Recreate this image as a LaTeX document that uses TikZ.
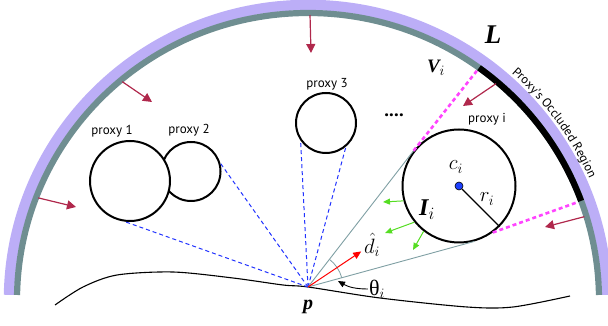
\documentclass[tikz,border=0pt]{standalone}
\usepackage{fontspec}
\setmainfont{Liberation Serif}
\setsansfont{PT Sans}
\usetikzlibrary{arrows.meta,positioning,calc,decorations.text}
\definecolor{Lav}{HTML}{BCAEF7}
\definecolor{Slate}{HTML}{6F8E91}
\definecolor{Crim}{HTML}{B0284C}
\definecolor{Lime}{HTML}{55DD22}
\definecolor{Ray}{HTML}{7F9FA3}
\definecolor{Pink}{HTML}{FF44FF}
\definecolor{Sight}{HTML}{2233FF}
\definecolor{Dot}{HTML}{1E40FF}

\begin{document}
\begin{tikzpicture}[x=1pt,y=1pt,
  proxy/.style={circle,draw=black,line width=2pt,inner sep=0pt},
  tag/.style={font=\sffamily\fontsize{13}{13}\selectfont,inner sep=0pt},
  push/.style={Crim,line width=1.2pt,-{Triangle[length=9pt,width=9pt]}},
  flow/.style={Lime,line width=1pt,-{Triangle[length=7pt,width=6pt]}},
  sight/.style={Sight,dash pattern=on 4pt off 3pt,line width=1pt},
  edge/.style={Ray,line width=0.9pt},
  occl/.style={Pink,dash pattern=on 4pt off 3pt,line width=2.6pt}]
\useasboundingbox (0,0) rectangle (608,326);
\coordinate (O) at (308,26);
\draw[Lav,line width=10.5pt] (O) ++(1:299pt and 295pt) arc[start angle=1,end angle=179,x radius=299pt,y radius=295pt];
\draw[Slate,line width=6.2pt] (O) ++(1:291pt and 287pt) arc[start angle=1,end angle=179,x radius=291pt,y radius=287pt];
\draw[black,line width=6.2pt] (O) ++(54:291pt and 287pt) arc[start angle=54,end angle=20.2,x radius=291pt,y radius=287pt];
\path[decorate,decoration={text along path,text align=center,text={|\sffamily\fontsize{12.5}{12.5}\selectfont|Proxy's Occluded Region}}] (O) ++(53:307pt and 303pt) arc[start angle=53,end angle=19,x radius=307pt,y radius=303pt];
\coordinate (V1) at ($(O)+(54:288pt and 284pt)$);
\coordinate (V2) at ($(O)+(20.2:288pt and 284pt)$);
\foreach \t/\tx/\ty in {89.6/311/273,130/152/224,159/76/119,49.4/463/220,17/545/99} \draw[push] ($(O)+(\t:289pt and 285pt)$) -- (\tx,\ty);
\draw[black,line width=1.1pt] plot[smooth] coordinates {(55,21) (83,39) (117,51) (173,54) (233,48) (283,41) (308,39) (380,28) (467,19) (513,19) (570,30)};
\coordinate (P) at (308,39);
\node[font=\fontsize{20}{20}\selectfont\bfseries\itshape] (plab) at (308,19) {p};
\node[proxy,minimum size=59pt] (p2) at (191,154.5) {};
\node[proxy,minimum size=80pt,fill=white] (p1) at (130,145) {};
\node[proxy,minimum size=60pt] (p3) at (326,203) {};
\node[proxy,minimum size=113pt] (pxi) at (459,140) {};
\node[tag] (lab1) at (112,195) {proxy 1};
\node[tag] (lab2) at (189,196) {proxy 2};
\node[tag] (lab3) at (327,242) {proxy 3};
\node[tag] (labi) at (487,207) {proxy i};
\node[tag,font=\sffamily\bfseries\fontsize{19}{19}\selectfont] (dots) at (394,211) {....};
\draw[sight] (P) -- (p1.263);
\draw[sight] (P) -- (p2.16);
\draw[sight] (P) -- (p3.215);
\draw[sight] (P) -- (p3.310);
\draw[edge] (P) -- (tangent cs:node=pxi,point={(P)},solution=2) coordinate (T1);
\draw[edge] (P) -- (tangent cs:node=pxi,point={(P)},solution=1) coordinate (T2);
\draw[occl] (T1) -- (V1);
\draw[occl] (pxi.-54) -- (V2);
\draw[edge,line width=0.8pt] ($(P)+(15.3:35pt)$) arc[start angle=15.3,end angle=52.2,radius=35pt];
\draw[red,line width=1pt,-{Triangle[length=8pt,width=7pt]}] (P) -- ($(P)!64pt!(pxi)$) coordinate (D);
\node[font=\fontsize{21}{21}\selectfont] (dlab) at (372,81) {$\hat{d}_i$};
\node[font=\fontsize{22}{22}\selectfont,inner sep=1pt] (th) at (377,37) {θ$_i$};
\draw[black,line width=0.9pt,-{Triangle[length=7pt,width=6pt]}] (th.west) to[out=180,in=-30] (338,45);
\foreach \a/\ex/\ey in {195/383/124,219/385/93,232.5/413/76} \draw[flow] (pxi.\a) -- (\ex,\ey);
\node[circle,fill=Dot,draw=black,line width=0.6pt,minimum size=8pt,inner sep=0pt] (ci) at (pxi) {};
\draw[black,line width=1.2pt] (ci) -- (pxi.-45);
\node[font=\fontsize{22}{22}\selectfont] (clab) at (456,159) {$c_i$};
\node[font=\fontsize{22}{22}\selectfont] (rlab) at (487,127) {$r_i$};
\node[font=\fontsize{24}{24}\selectfont] (Ilab) at (427,116) {\bfseries\itshape I\normalfont$_i$};
\node[font=\fontsize{19}{19}\selectfont] (Vlab) at (436,258) {\bfseries\itshape V\normalfont$_i$};
\node[font=\fontsize{27}{27}\selectfont\bfseries\itshape] (Llab) at (493,291) {L};
\end{tikzpicture}
\end{document}
